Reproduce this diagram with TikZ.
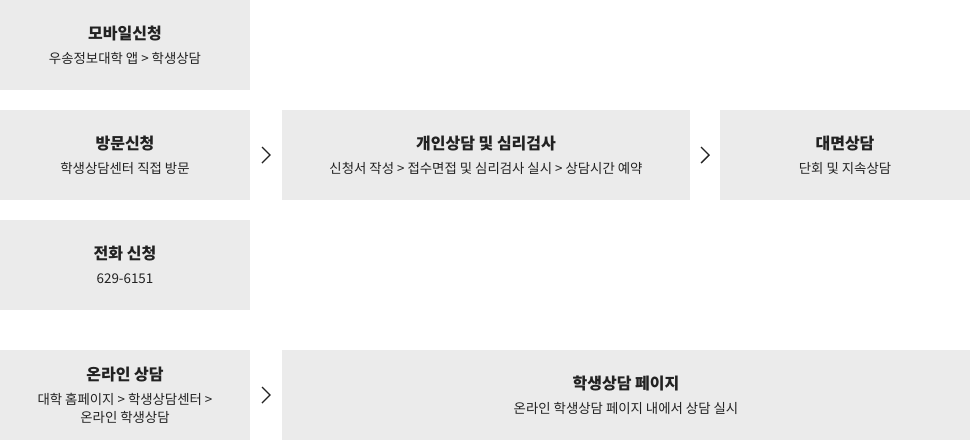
\documentclass[tikz,border=0pt]{standalone}
\usepackage{fontspec}
\newfontfamily\krfont{Noto Sans CJK KR}
\usetikzlibrary{calc}
\definecolor{boxgray}{HTML}{EBEBEB}
\definecolor{inkgray}{HTML}{222222}
\newcommand{\ttl}[1]{{\fontsize{16}{18}\selectfont\bfseries #1}}
\newcommand{\chev}[2]{\draw[chevline] ($(#1.east)!0.5!(#2.west)$) ++(-4,-8) -- ++(8,8) -- ++(-8,8);}

\begin{document}
\begin{tikzpicture}[x=1pt, y=-1pt,
    box/.style={fill=boxgray, inner sep=0pt, minimum height=90pt, align=center,
        text=inkgray, font=\krfont\fontsize{13.4}{18}\selectfont},
    chevline/.style={draw=inkgray, line width=1.4pt, line join=miter}]
            \useasboundingbox (0,0) rectangle (970,440);
            \node[box, minimum width=250pt] (mobile) at (125,45) {\ttl{모바일신청}\\[6pt]우송정보대학 앱 > 학생상담};
            \node[box, minimum width=250pt] (visit) at (125,155) {\ttl{방문신청}\\[6pt]학생상담센터 직접 방문};
            \node[box, minimum width=250pt] (phone) at (125,265) {\ttl{전화 신청}\\[6pt]629-6151};
            \node[box, minimum width=250pt] (online) at (125,395) {\ttl{온라인 상담}\\[6pt]대학 홈페이지 > 학생상담센터 >\\온라인 학생상담};
            \node[box, minimum width=408pt] (test) at (486,155) {\ttl{개인상담 및 심리검사}\\[6pt]신청서 작성 > 접수면접 및 심리검사 실시 > 상담시간 예약};
            \node[box, minimum width=250pt] (meet) at (845,155) {\ttl{대면상담}\\[6pt]단회 및 지속상담};
            \node[box, minimum width=688pt] (page) at (626,395) {\ttl{학생상담 페이지}\\[6pt]온라인 학생상담 페이지 내에서 상담 실시};
            \chev{visit}{test}
            \chev{test}{meet}
            \chev{online}{page}
        \end{tikzpicture}
\end{document}
